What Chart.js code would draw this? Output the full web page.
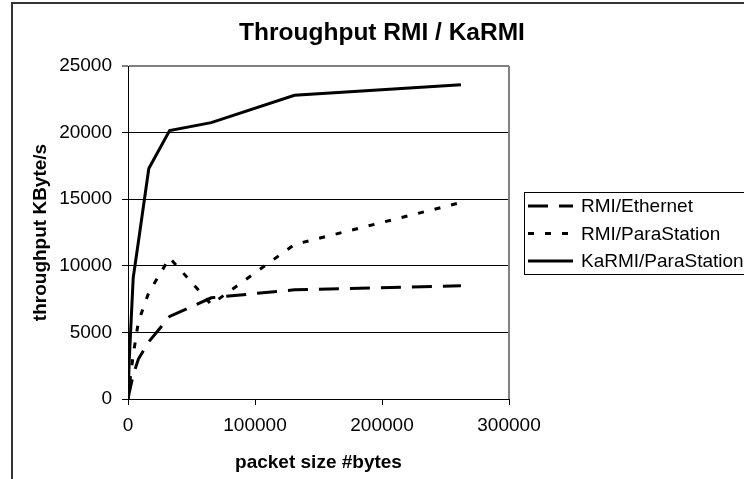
<!DOCTYPE html>
<html>
<head>
<meta charset="utf-8">
<title>Throughput RMI / KaRMI</title>
<script src="https://cdn.jsdelivr.net/npm/chart.js@4/dist/chart.umd.min.js"></script>
<style>
  html, body { margin: 0; padding: 0; background: #fff; }
  #wrap { width: 744px; height: 479px; }
</style>
</head>
<body>
<div id="wrap"><canvas id="chart" width="744" height="479"></canvas></div>
<script>
// packet sizes (bytes) and measured throughput (KByte/s)
const packetSizes = [1, 1024, 4096, 8192, 16384, 32768, 65536, 131072, 262144];
const rmiEthernet = [0, 500, 1800, 3000, 4300, 6200, 7600, 8200, 8500];
const rmiParaStation = [0, 1000, 3300, 5800, 8000, 10600, 7100, 11600, 14750];
const karmiParaStation = [0, 3000, 9100, 11800, 17300, 20150, 20750, 22800, 23600];

const seriesNames = ['RMI/Ethernet', 'RMI/ParaStation', 'KaRMI/ParaStation'];
const xTicks = [0, 100000, 200000, 300000];
const yTicks = [0, 5000, 10000, 15000, 20000, 25000];
const chartTitle = 'Throughput RMI / KaRMI';

const FONT = '"Liberation Sans", Arial, sans-serif';

function toPoints(values) {
    return packetSizes.map((x, i) => ({ x: x, y: values[i] }));
}

/**
 * Title, legend box and outer frame, drawn like the Excel original
 */
const excelDecor = {
    id: 'excelDecor',
    afterDraw(chart) {
        const ctx = chart.ctx;
        const area = chart.chartArea;
        ctx.save();

        // gray plot area border on the right
        ctx.strokeStyle = '#808080';
        ctx.lineWidth = 2;
        ctx.beginPath();
        ctx.moveTo(area.right, area.top);
        ctx.lineTo(area.right, area.bottom);
        ctx.stroke();

        // outer chart frame (runs off the right and bottom edge)
        ctx.strokeStyle = '#333';
        ctx.lineWidth = 2;
        ctx.strokeRect(12, 3, 800, 600);

        // title
        ctx.fillStyle = '#000';
        ctx.font = 'bold 24.5px ' + FONT;
        ctx.textAlign = 'center';
        ctx.textBaseline = 'middle';
        ctx.fillText(chartTitle, 382, 33);

        // legend
        ctx.strokeStyle = '#000';
        ctx.lineWidth = 1;
        ctx.strokeRect(524.5, 192.5, 260, 82);
        ctx.font = '19px ' + FONT;
        ctx.textAlign = 'left';
        chart.data.datasets.forEach((ds, i) => {
            const y = 206 + i * 27.5;
            ctx.strokeStyle = ds.borderColor;
            ctx.lineWidth = ds.borderWidth;
            ctx.setLineDash(ds.borderDash || []);
            ctx.beginPath();
            ctx.moveTo(528, y);
            ctx.lineTo(573, y);
            ctx.stroke();
            ctx.setLineDash([]);
            ctx.fillText(ds.label, 581, y + 1);
        });
        ctx.restore();
    }
};

const ctx = document.getElementById('chart').getContext('2d');
const chart = new Chart(ctx, {
    type: 'line',
    data: {
        datasets: [
            {
                label: seriesNames[0],
                data: toPoints(rmiEthernet),
                borderColor: '#000',
                borderWidth: 3,
                borderDash: [20, 11],
                pointRadius: 0,
                tension: 0
            },
            {
                label: seriesNames[1],
                data: toPoints(rmiParaStation),
                borderColor: '#000',
                borderWidth: 3,
                borderDash: [6, 11],
                pointRadius: 0,
                tension: 0
            },
            {
                label: seriesNames[2],
                data: toPoints(karmiParaStation),
                borderColor: '#000',
                borderWidth: 3,
                pointRadius: 0,
                tension: 0
            }
        ]
    },
    options: {
        responsive: false,
        animation: false,
        layout: { padding: { top: 66, right: 235, bottom: 0, left: 0 } },
        plugins: {
            legend: { display: false },
            title: { display: false },
            tooltip: { enabled: false }
        },
        scales: {
            x: {
                type: 'linear',
                min: xTicks[0],
                max: xTicks[xTicks.length - 1],
                afterBuildTicks: scale => { scale.ticks = xTicks.map(v => ({ value: v })); },
                afterFit: scale => { scale.height = 80; },
                grid: { drawOnChartArea: false, drawTicks: true, tickLength: 6, color: '#000' },
                border: { display: true, color: '#000', width: 1 },
                ticks: {
                    color: '#000',
                    padding: 9,
                    maxRotation: 0,
                    font: { family: FONT, size: 19 },
                    callback: v => String(v)
                },
                title: {
                    display: true,
                    text: 'packet size #bytes',
                    color: '#000',
                    font: { family: FONT, size: 19, weight: 'bold' },
                    padding: { top: 0, bottom: 5 }
                }
            },
            y: {
                min: yTicks[0],
                max: yTicks[yTicks.length - 1],
                afterBuildTicks: scale => { scale.ticks = yTicks.map(v => ({ value: v })); },
                afterFit: scale => { scale.width = 128; },
                grid: {
                    drawTicks: true,
                    tickLength: 6,
                    color: c => (c.tick && c.tick.value === 25000) ? '#808080' : '#000',
                    lineWidth: c => (c.tick && c.tick.value === 25000) ? 2 : 1
                },
                border: { display: true, color: '#000', width: 1 },
                ticks: {
                    color: '#000',
                    padding: 10,
                    font: { family: FONT, size: 19 },
                    callback: v => String(v)
                },
                title: {
                    display: true,
                    text: 'throughput KByte/s',
                    color: '#000',
                    font: { family: FONT, size: 19, weight: 'bold' },
                    padding: { top: 29, bottom: 0 }
                }
            }
        }
    },
    plugins: [excelDecor]
});
</script>
</body>
</html>
